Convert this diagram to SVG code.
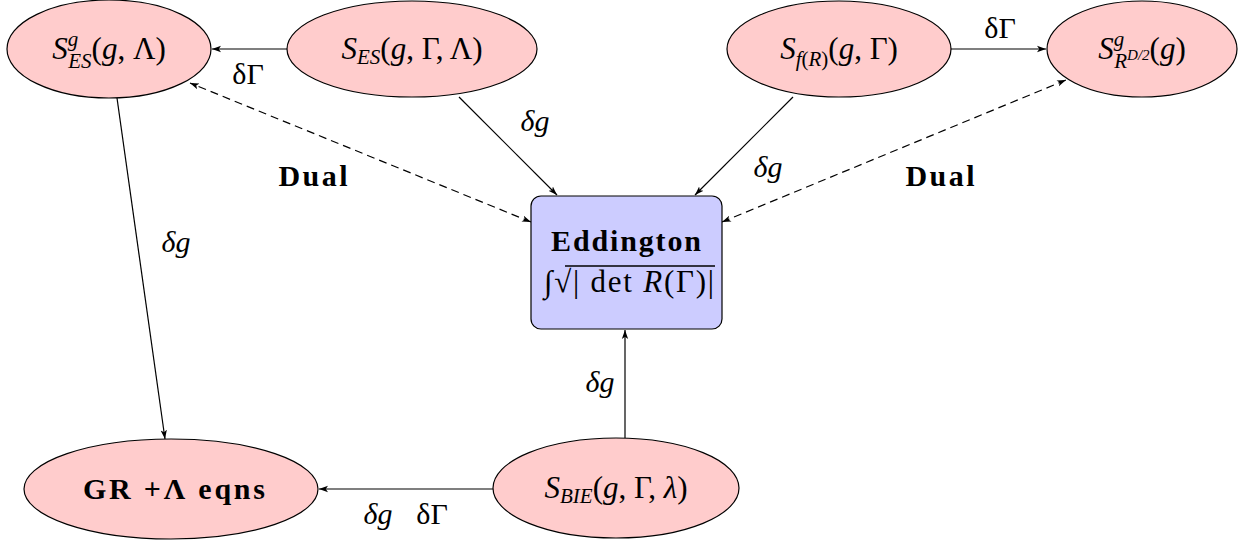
<svg xmlns="http://www.w3.org/2000/svg" width="1242" height="546" viewBox="0 0 1242 546">
<style>
.node{fill:#ffcccc;stroke:#000;stroke-width:1.2}
.box{fill:#ccccff;stroke:#000;stroke-width:1.2}
.t{font-family:"Liberation Serif","DejaVu Serif",serif;font-size:30px;fill:#000}
.n{font-size:31px}
.m{font-style:italic}
.s{font-size:21px}
.b{font-weight:bold}
.e{stroke:#000;stroke-width:1.2;fill:none}
.d{stroke-dasharray:8,5}
</style>
<defs>
<marker id="ah" viewBox="0 0 10 10" refX="10" refY="5" markerWidth="9" markerHeight="9" markerUnits="userSpaceOnUse" orient="auto-start-reverse">
<path d="M0,1.5 L10,5 L0,8.5 L2.5,5 Z" fill="#000"/>
</marker>
</defs>
<g id="connectors">
<line class="e" x1="287" y1="49" x2="212" y2="49" marker-end="url(#ah)"/>
<line class="e" x1="459" y1="97" x2="557" y2="195" marker-end="url(#ah)"/>
<line class="e" x1="793" y1="97" x2="695" y2="195" marker-end="url(#ah)"/>
<line class="e" x1="951" y1="49" x2="1046" y2="49" marker-end="url(#ah)"/>
<line class="e d" x1="531" y1="222" x2="190" y2="83" marker-start="url(#ah)" marker-end="url(#ah)"/>
<line class="e d" x1="722" y1="222" x2="1066" y2="80" marker-start="url(#ah)" marker-end="url(#ah)"/>
<line class="e" x1="117" y1="98" x2="165" y2="439" marker-end="url(#ah)"/>
<line class="e" x1="625" y1="438" x2="625" y2="330" marker-end="url(#ah)"/>
<line class="e" x1="493" y1="489" x2="319" y2="489" marker-end="url(#ah)"/>
<text class="t" x="248" y="84" text-anchor="middle">δΓ</text>
<text class="t" x="535" y="131" text-anchor="middle"><tspan class="m">δg</tspan></text>
<text class="t" x="768" y="177" text-anchor="middle"><tspan class="m">δg</tspan></text>
<text class="t" x="1000" y="38" text-anchor="middle">δΓ</text>
<text class="t b" x="313" y="186" text-anchor="middle" font-size="31" textLength="69">Dual</text>
<text class="t b" x="940" y="186" text-anchor="middle" font-size="31" textLength="69">Dual</text>
<text class="t" x="176" y="252" text-anchor="middle"><tspan class="m">δg</tspan></text>
<text class="t" x="600" y="392" text-anchor="middle"><tspan class="m">δg</tspan></text>
<text class="t" x="378" y="524" text-anchor="middle"><tspan class="m">δg</tspan></text>
<text class="t" x="432" y="524" text-anchor="middle">δΓ</text>
</g>
<g id="n1">
<ellipse class="node" cx="109" cy="49" rx="102" ry="49"/>
<text class="t n" x="109" y="59" text-anchor="middle"><tspan class="m">S</tspan><tspan class="s m" dy="-13">g</tspan><tspan class="s m" dx="-10" dy="22">ES</tspan><tspan dy="-9">(</tspan><tspan class="m">g</tspan>, Λ)</text>
</g>
<g id="n2">
<ellipse class="node" cx="412" cy="49" rx="125" ry="48"/>
<text class="t n" x="412" y="59" text-anchor="middle"><tspan class="m">S</tspan><tspan class="s m" dy="5">ES</tspan><tspan dy="-5">(</tspan><tspan class="m">g</tspan>, Γ, Λ)</text>
</g>
<g id="n3">
<ellipse class="node" cx="839" cy="49" rx="112" ry="48"/>
<text class="t n" x="839" y="59" text-anchor="middle"><tspan class="m">S</tspan><tspan class="s" dy="7"><tspan class="m">f</tspan>(<tspan class="m">R</tspan>)</tspan><tspan dy="-7">(</tspan><tspan class="m">g</tspan>, Γ)</text>
</g>
<g id="n4">
<ellipse class="node" cx="1142" cy="49" rx="95" ry="48"/>
<text class="t n" x="1142" y="59" text-anchor="middle"><tspan class="m">S</tspan><tspan class="s m" dy="-13">g</tspan><tspan class="s m" dx="-10" dy="22">R</tspan><tspan class="m" font-size="15" dy="-8">D/2</tspan><tspan dy="-1">(</tspan><tspan class="m">g</tspan>)</text>
</g>
<g id="n5">
<rect class="box" x="531" y="196" width="191" height="133" rx="10"/>
<text class="t b" x="626" y="251" text-anchor="middle" font-size="32" textLength="150">Eddington</text>
<text class="t n" x="544" y="292" textLength="170">∫√| det <tspan class="m">R</tspan>(Γ)|</text>
<line x1="565" y1="266" x2="715" y2="266" stroke="#000" stroke-width="1.3"/>
</g>
<g id="n6">
<ellipse class="node" cx="171" cy="489" rx="147" ry="50"/>
<text class="t b" x="174" y="499" text-anchor="middle" font-size="33" textLength="182">GR +Λ eqns</text>
</g>
<g id="n7">
<ellipse class="node" cx="616" cy="488" rx="123" ry="50"/>
<text class="t n" x="616" y="498" text-anchor="middle"><tspan class="m">S</tspan><tspan class="s m" dy="5">BIE</tspan><tspan dy="-5">(</tspan><tspan class="m">g</tspan>, Γ, <tspan class="m">λ</tspan>)</text>
</g>
</svg>
